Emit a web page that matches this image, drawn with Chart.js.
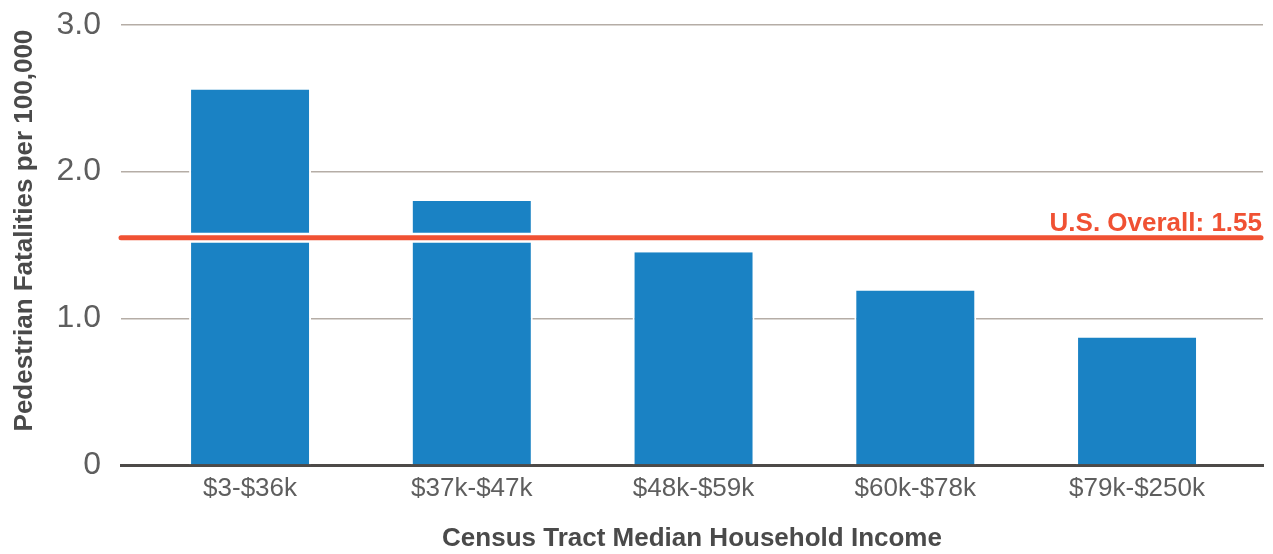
<!DOCTYPE html>
<html>
<head>
<meta charset="utf-8">
<script src="https://cdn.jsdelivr.net/npm/chart.js@4.4.0/dist/chart.umd.min.js"></script>
<style>
  html, body { margin: 0; padding: 0; background: #ffffff; }
  #wrap { width: 1273px; height: 554px; position: relative; }
</style>
</head>
<body>
<div id="wrap"><canvas id="c" width="1273" height="554"></canvas></div>
<script>
const categories = ['$3-$36k', '$37k-$47k', '$48k-$59k', '$60k-$78k', '$79k-$250k'];
const fatalities = [2.56, 1.80, 1.45, 1.19, 0.87];
const overallValue = 1.55;
const overallLabel = 'U.S. Overall: 1.55';
const yTickValues = [0, 1, 2, 3];
const yTickLabels = ['0', '1.0', '2.0', '3.0'];
const xTitle = 'Census Tract Median Household Income';
const yTitle = 'Pedestrian Fatalities per 100,000';

const FONT = '"Liberation Sans", Helvetica, Arial, sans-serif';
const BAR = '#1a82c4';
const RED = '#f05133';

const overallPlugin = {
  id: 'overall',
  afterDatasetsDraw(chart) {
    const { ctx, chartArea, scales } = chart;
    const y = scales.y.getPixelForValue(overallValue);
    ctx.save();
    ctx.strokeStyle = '#ffffff';
    ctx.lineWidth = 10;
    ctx.beginPath();
    ctx.moveTo(chartArea.left, y);
    ctx.lineTo(chartArea.right, y);
    ctx.stroke();
    ctx.strokeStyle = RED;
    ctx.lineWidth = 5;
    ctx.lineCap = 'round';
    ctx.beginPath();
    ctx.moveTo(chartArea.left, y);
    ctx.lineTo(chartArea.right - 2, y);
    ctx.stroke();
    ctx.fillStyle = RED;
    ctx.font = 'bold 26px ' + FONT;
    ctx.textAlign = 'right';
    ctx.textBaseline = 'alphabetic';
    ctx.fillText(overallLabel, chartArea.right - 1, y - 7);
    ctx.restore();
  }
};

const points = fatalities.map((v, i) => ({ x: i, y: v }));

new Chart(document.getElementById('c'), {
  type: 'bar',
  data: {
    datasets: [{
      data: points,
      backgroundColor: BAR,
      borderColor: '#ffffff',
      borderWidth: { left: 2, right: 2, top: 0, bottom: 0 },
      borderSkipped: 'bottom',
      barPercentage: 0.55,
      categoryPercentage: 1.0
    }]
  },
  options: {
    responsive: false,
    animation: false,
    events: [],
    layout: { padding: { top: 25, right: 10, left: 0, bottom: 0 } },
    plugins: { legend: { display: false }, tooltip: { enabled: false } },
    scales: {
      x: {
        type: 'linear',
        offset: false,
        min: -0.582,
        max: 4.568,
        afterBuildTicks(scale) {
          scale.ticks = categories.map((c, i) => ({ value: i }));
        },
        afterFit(scale) {
          scale.height = 89;
          scale.paddingLeft = 0;
          scale.paddingRight = 0;
        },
        grid: { display: false, drawTicks: false, offset: false },
        border: { display: true, color: '#4d4a48', width: 3 },
        ticks: {
          padding: 8,
          color: '#5e5e5e',
          font: { family: FONT, size: 26 },
          maxRotation: 0,
          autoSkip: false,
          callback: (v) => categories[v] ?? ''
        },
        title: {
          display: true,
          text: xTitle,
          color: '#4a4a4a',
          font: { family: FONT, size: 26, weight: 'bold' },
          padding: { top: 30, bottom: 0 }
        }
      },
      y: {
        min: 0,
        max: 3,
        afterBuildTicks(scale) {
          scale.ticks = yTickValues.map(v => ({ value: v }));
        },
        afterFit(scale) {
          scale.width = 121;
          scale.paddingTop = 0;
          scale.paddingBottom = 0;
        },
        grid: { color: '#b5ada6', lineWidth: 1.5, drawTicks: false },
        border: { display: false },
        ticks: {
          padding: 20,
          color: '#5e5e5e',
          font: { family: FONT, size: 32 },
          callback: (v) => yTickLabels[yTickValues.indexOf(v)]
        },
        title: {
          display: true,
          text: '    ' + yTitle,
          color: '#4a4a4a',
          font: { family: FONT, size: 26, weight: 'bold' },
          padding: { top: 9, bottom: 0 }
        }
      }
    }
  },
  plugins: [overallPlugin]
});
</script>
</body>
</html>
